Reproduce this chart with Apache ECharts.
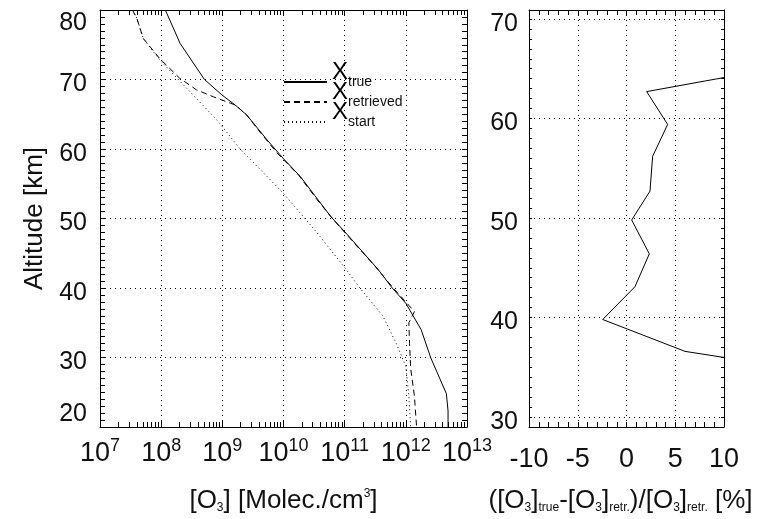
<!DOCTYPE html>
<html>
<head>
<meta charset="utf-8">
<script src="https://cdn.jsdelivr.net/npm/echarts@6/dist/echarts.min.js"></script>
<style>
html,body{margin:0;padding:0;background:#fff}
#main{width:767px;height:519px}
</style>
</head>
<body>
<div id="main"></div>
<script>
// 左图: 臭氧廓线 (高度 km, 浓度 molec/cm3)
var altTrue = [80, 75.2, 70, 67.8, 66.1, 64.9, 61.3, 58.6, 56.0, 50.3, 47.9, 42.7, 40.0, 37.8, 34.0, 29.9, 24.8, 22.3, 20];
var o3True = [1.17e8, 2.04e8, 5.1e8, 9.8e8, 1.74e9, 2.5e9, 5.4e9, 1.0e10, 1.9e10, 5.9e10, 1.05e11, 3.5e11, 6.0e11, 1.0e12, 1.78e12, 2.57e12, 4.6e12, 4.9e12, 4.9e12];
var altRetr = [80, 78.8, 75.9, 73.0, 70.2, 68.5, 67.5, 66.6, 66.3, 64.9, 62.7, 59.4, 56.2, 52.7, 49.8, 46.4, 43.1, 39.8, 38.0, 36.6, 35.0, 32.0, 28.4, 24.5, 20];
var o3Retr = [3.4e7, 4.0e7, 5.1e7, 9.5e7, 2.0e8, 3.8e8, 7.2e8, 1.35e9, 1.66e9, 2.5e9, 3.9e9, 7.9e9, 1.78e10, 3.55e10, 6.6e10, 1.45e11, 3.16e11, 6.5e11, 1.0e12, 1.38e12, 1.12e12, 1.15e12, 1.2e12, 1.38e12, 1.5e12];
var altStart = [80, 78.8, 75.9, 72.8, 64.2, 59.9, 56.5, 53.6, 48.0, 42.7, 40.2, 36.0, 32.0, 28.7, 24.5, 20];
var o3Start = [3.4e7, 4.0e7, 5.1e7, 9.5e7, 8.1e8, 2.0e9, 4.8e9, 1.0e10, 3.5e10, 1.05e11, 1.7e11, 4.2e11, 7.0e11, 1.0e12, 1.12e12, 1.2e12];
// 右图: 相对偏差 %
var altDiff = [66.0, 62.7, 59.4, 56.2, 52.7, 49.8, 46.4, 43.1, 39.8, 36.6, 33.3];
var diffPct = [20.6, 2.07, 4.22, 2.68, 2.41, 0.53, 2.34, 0.87, -2.44, 6.0, 27.6];
// 对数轴小刻度
var decadeExps = [7, 8, 9, 10, 11, 12];
var minorSteps = [2, 3, 4, 5, 6, 7, 8, 9];

var FONT = '"Liberation Sans", Arial, sans-serif';
var INK = '#111';

function pairs(xs, ys) {
    var out = [];
    for (var i = 0; i < xs.length; i++) out.push([xs[i], ys[i]]);
    return out;
}
var minorO3 = [];
decadeExps.forEach(function (e) {
    minorSteps.forEach(function (m) { minorO3.push(m * Math.pow(10, e)); });
});

var gridLine = { show: true, lineStyle: { color: '#000', type: [1, 4], width: 1 } };
var frame = { show: true, onZero: false, lineStyle: { color: '#000', width: 1 } };
var noLine = { show: false, onZero: false };

function hiddenLabel() { return { show: false }; }

// y 刻度标签略向下偏移
var yLabelRich = {
    v: { fontSize: 25, lineHeight: 25, padding: [10, 0, 0, 0], color: INK, fontFamily: FONT },
    t: { fontSize: 25, lineHeight: 26, color: INK, fontFamily: FONT }
};

var myChart = echarts.init(document.getElementById('main'), null, { renderer: 'canvas' });

var option = {
    animation: false,
    backgroundColor: '#fff',
    textStyle: { fontFamily: FONT, color: INK },
    grid: [
        { left: 100, top: 10, width: 367, height: 418 },
        { left: 529, top: 10, width: 195, height: 418 }
    ],
    legend: {
        data: ['true', 'retrieved', 'start'],
        orient: 'vertical',
        left: 283,
        top: 60,
        padding: 0,
        itemWidth: 43,
        itemHeight: 14,
        itemGap: -9,
        selectedMode: false,
        itemStyle: { opacity: 0 },
        formatter: function (name) { return '{x|X}{s|' + name + '}'; },
        textStyle: {
            color: '#000',
            fontFamily: FONT,
            rich: {
                x: { fontSize: 24, lineHeight: 44, verticalAlign: 'top', color: '#000', fontFamily: FONT },
                s: { fontSize: 14, lineHeight: 14, padding: [15, 0, 0, 0], verticalAlign: 'top', color: INK, fontFamily: FONT }
            }
        }
    },
    xAxis: [
        {
            gridIndex: 0, type: 'log', logBase: 10, min: 1e7, max: 1e13, splitNumber: 6,
            position: 'bottom',
            axisLine: frame,
            axisTick: { inside: true, length: 6, lineStyle: { color: '#000' } },
            splitLine: gridLine,
            axisLabel: {
                margin: 10,
                formatter: function (v) { return '{b|10}{e|' + Math.round(Math.log10(v)) + '}'; },
                rich: {
                    b: { fontSize: 27, lineHeight: 30, padding: [6, 0, 0, 0], verticalAlign: 'bottom', color: INK, fontFamily: FONT },
                    e: { fontSize: 18, lineHeight: 18, verticalAlign: 'top', color: INK, fontFamily: FONT }
                }
            },
            name: '{n|[O}{s|3}{n|] [Molec./cm}{p|3}{n|]}',
            nameLocation: 'middle',
            nameGap: 57,
            nameTextStyle: {
                rich: {
                    n: { fontSize: 26, lineHeight: 30, verticalAlign: 'bottom', color: INK, fontFamily: FONT },
                    s: { fontSize: 12, lineHeight: 12, verticalAlign: 'bottom', color: INK, fontFamily: FONT },
                    p: { fontSize: 12, lineHeight: 12, padding: [4, 0, 0, 0], verticalAlign: 'top', color: INK, fontFamily: FONT }
                }
            }
        },
        {
            gridIndex: 0, type: 'log', logBase: 10, min: 1e7, max: 1e13, splitNumber: 6,
            position: 'top',
            axisLine: frame,
            axisTick: { inside: true, length: 6, lineStyle: { color: '#000' } },
            splitLine: { show: false },
            axisLabel: hiddenLabel()
        },
        {
            gridIndex: 0, type: 'log', logBase: 10, min: 1e7, max: 1e13,
            position: 'bottom',
            axisLine: noLine,
            axisTick: { inside: true, length: 5, customValues: minorO3, lineStyle: { color: '#000' } },
            splitLine: { show: false },
            axisLabel: hiddenLabel()
        },
        {
            gridIndex: 0, type: 'log', logBase: 10, min: 1e7, max: 1e13,
            position: 'top',
            axisLine: noLine,
            axisTick: { inside: true, length: 5, customValues: minorO3, lineStyle: { color: '#000' } },
            splitLine: { show: false },
            axisLabel: hiddenLabel()
        },
        {
            gridIndex: 1, type: 'value', min: -10, max: 10, interval: 5,
            position: 'bottom',
            axisLine: frame,
            axisTick: { inside: true, length: 5, lineStyle: { color: '#000' } },
            minorTick: { show: true, splitNumber: 5, length: 5, lineStyle: { color: '#000' } },
            splitLine: gridLine,
            axisLabel: { margin: 19, fontSize: 27, color: INK, fontFamily: FONT },
            name: '{n|([O}{s|3}{n|]}{s|true}{n|-[O}{s|3}{n|]}{s|retr.}{n|)/[O}{s|3}{n|]}{s|retr.}{n| [%]}',
            nameLocation: 'middle',
            nameGap: 57,
            nameTextStyle: {
                padding: [0, 12, 0, 0],
                rich: {
                    n: { fontSize: 26, lineHeight: 30, verticalAlign: 'bottom', color: INK, fontFamily: FONT },
                    s: { fontSize: 12, lineHeight: 12, verticalAlign: 'bottom', color: INK, fontFamily: FONT }
                }
            }
        },
        {
            gridIndex: 1, type: 'value', min: -10, max: 10, interval: 5,
            position: 'top',
            axisLine: frame,
            axisTick: { inside: true, length: 5, lineStyle: { color: '#000' } },
            minorTick: { show: true, splitNumber: 5, length: 5, lineStyle: { color: '#000' } },
            splitLine: { show: false },
            axisLabel: hiddenLabel()
        }
    ],
    yAxis: [
        {
            gridIndex: 0, type: 'value', min: 20, max: 80, interval: 10,
            position: 'left',
            axisLine: frame,
            axisTick: { inside: true, length: 5, lineStyle: { color: '#000' } },
            minorTick: { show: true, splitNumber: 10, length: 5, lineStyle: { color: '#000' } },
            splitLine: gridLine,
            axisLabel: {
                margin: 13,
                verticalAlignMaxLabel: 'top', verticalAlignMinLabel: 'bottom',
                formatter: function (v) {
                    if (v === 80) return '{t|80}';
                    if (v === 20) return '{t|20}';
                    return '{v|' + v + '}';
                },
                rich: yLabelRich
            },
            name: 'Altitude [km]',
            nameLocation: 'middle',
            nameGap: 52,
            nameTextStyle: { fontSize: 26, color: INK, fontFamily: FONT }
        },
        {
            gridIndex: 0, type: 'value', min: 20, max: 80, interval: 10,
            position: 'right',
            axisLine: frame,
            axisTick: { inside: true, length: 5, lineStyle: { color: '#000' } },
            minorTick: { show: true, splitNumber: 10, length: 5, lineStyle: { color: '#000' } },
            splitLine: { show: false },
            axisLabel: hiddenLabel()
        },
        {
            gridIndex: 1, type: 'value', min: 29, max: 70.9, splitNumber: 4,
            position: 'left',
            axisLine: frame,
            axisTick: { show: false },
            splitLine: gridLine,
            axisLabel: {
                margin: 11,
                showMinLabel: false, showMaxLabel: false,
                formatter: function (v) { return '{v|' + v + '}'; },
                rich: yLabelRich
            }
        },
        {
            gridIndex: 1, type: 'value', min: 29, max: 70.9, splitNumber: 4,
            position: 'right',
            axisLine: frame,
            axisTick: { show: false },
            splitLine: { show: false },
            axisLabel: hiddenLabel()
        },
        {
            gridIndex: 1, type: 'value', min: 29, max: 70.9, interval: 1,
            position: 'left',
            axisLine: noLine,
            axisTick: { inside: true, length: 3, lineStyle: { color: '#000' } },
            splitLine: { show: false },
            axisLabel: hiddenLabel()
        },
        {
            gridIndex: 1, type: 'value', min: 29, max: 70.9, interval: 1,
            position: 'right',
            axisLine: noLine,
            axisTick: { inside: true, length: 3, lineStyle: { color: '#000' } },
            splitLine: { show: false },
            axisLabel: hiddenLabel()
        }
    ],
    series: [
        {
            name: 'true', type: 'line', xAxisIndex: 0, yAxisIndex: 0,
            symbol: 'none', silent: true,
            lineStyle: { color: '#000', width: 1, type: 'solid' },
            itemStyle: { color: '#000' },
            data: pairs(o3True, altTrue)
        },
        {
            name: 'retrieved', type: 'line', xAxisIndex: 0, yAxisIndex: 0,
            symbol: 'none', silent: true,
            lineStyle: { color: '#000', width: 1, type: [6, 4] },
            itemStyle: { color: '#000' },
            data: pairs(o3Retr, altRetr)
        },
        {
            name: 'start', type: 'line', xAxisIndex: 0, yAxisIndex: 0,
            symbol: 'none', silent: true,
            lineStyle: { color: '#000', width: 1, type: [1, 3] },
            itemStyle: { color: '#000' },
            data: pairs(o3Start, altStart)
        },
        {
            name: 'diff', type: 'line', xAxisIndex: 4, yAxisIndex: 2,
            symbol: 'none', silent: true, clip: true,
            lineStyle: { color: '#000', width: 1 },
            itemStyle: { color: '#000' },
            data: pairs(diffPct, altDiff)
        }
    ]
};
myChart.setOption(option);
</script>
</body>
</html>
